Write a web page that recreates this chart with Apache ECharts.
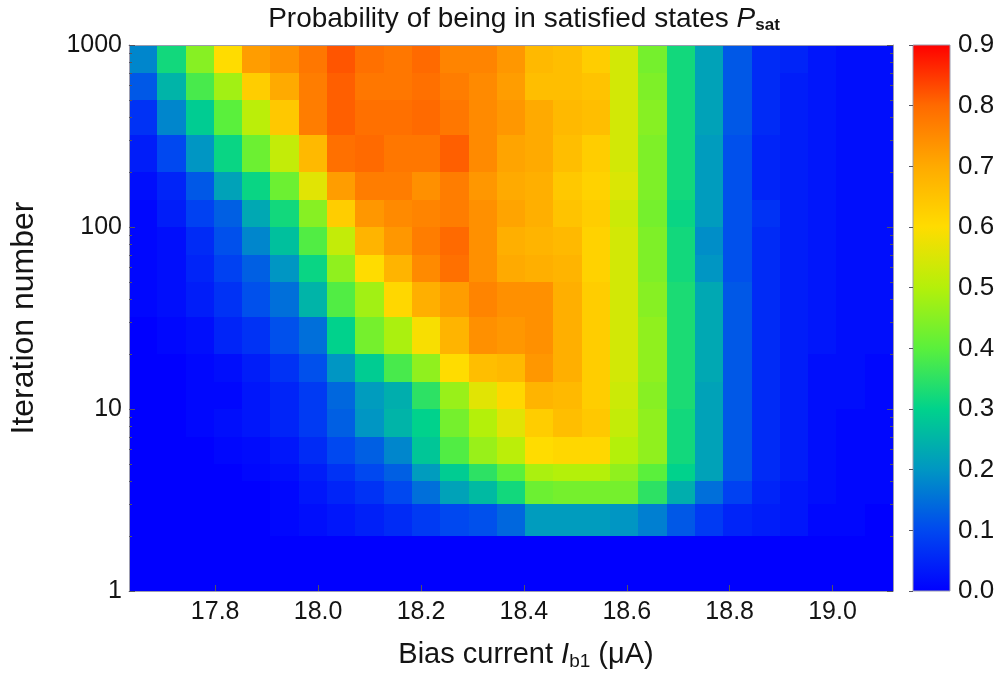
<!DOCTYPE html>
<html>
<head>
<meta charset="utf-8">
<script src="https://cdn.jsdelivr.net/npm/echarts@6/dist/echarts.min.js"></script>
<style>
  html, body { margin: 0; padding: 0; background: #ffffff; }
  #chart { width: 1006px; height: 679px; }
</style>
</head>
<body>
<div id="chart"></div>
<script>
// Bias current at the centre of each measured column (µA)
const biasCurrent = [17.66, 17.715, 17.77, 17.825, 17.88, 17.935, 17.99, 18.045, 18.10, 18.155,
  18.21, 18.265, 18.32, 18.375, 18.43, 18.485, 18.54, 18.595, 18.65, 18.705,
  18.76, 18.815, 18.87, 18.925, 18.98, 19.035, 19.09];

// Iteration-number bin edges, bottom to top
const iterationEdges = [1, 2, 3, 4, 5, 7, 10, 14, 20, 32, 50, 70, 100, 140, 200, 320, 500, 700, 1000];

// P_sat for every iteration bin, one value per bias current
const pSatIter1to2 = [0, 0, 0, 0, 0, 0, 0, 0, 0, 0, 0, 0, 0, 0, 0, 0, 0, 0, 0, 0, 0, 0, 0, 0, 0, 0, 0];
const pSatIter2to3 = [0, 0, 0, 0, 0, 0.01, 0.02, 0.03, 0.045, 0.06, 0.08, 0.10, 0.11, 0.14, 0.21, 0.21, 0.21, 0.20, 0.17, 0.12, 0.08, 0.05, 0.04, 0.03, 0.01, 0.01, 0];
const pSatIter3to4 = [0, 0, 0, 0, 0, 0.01, 0.03, 0.05, 0.07, 0.10, 0.15, 0.22, 0.26, 0.32, 0.42, 0.43, 0.43, 0.43, 0.35, 0.24, 0.15, 0.09, 0.05, 0.03, 0.02, 0.01, 0.01];
const pSatIter4to5 = [0, 0, 0, 0, 0.01, 0.02, 0.04, 0.07, 0.10, 0.13, 0.21, 0.29, 0.35, 0.40, 0.49, 0.50, 0.50, 0.46, 0.40, 0.30, 0.22, 0.12, 0.06, 0.04, 0.02, 0.01, 0.01];
const pSatIter5to7 = [0, 0, 0, 0.01, 0.015, 0.03, 0.06, 0.10, 0.13, 0.18, 0.28, 0.39, 0.47, 0.51, 0.60, 0.61, 0.61, 0.50, 0.46, 0.32, 0.22, 0.12, 0.06, 0.04, 0.02, 0.01, 0.01];
const pSatIter7to10 = [0, 0, 0.01, 0.02, 0.03, 0.05, 0.08, 0.13, 0.20, 0.25, 0.30, 0.43, 0.50, 0.56, 0.63, 0.66, 0.64, 0.52, 0.46, 0.32, 0.22, 0.12, 0.06, 0.04, 0.02, 0.01, 0.01];
const pSatIter10to14 = [0, 0, 0.01, 0.01, 0.03, 0.05, 0.08, 0.14, 0.21, 0.24, 0.35, 0.47, 0.56, 0.61, 0.68, 0.67, 0.63, 0.53, 0.45, 0.33, 0.22, 0.12, 0.06, 0.04, 0.02, 0.02, 0.01];
const pSatIter14to20 = [0, 0, 0.01, 0.02, 0.04, 0.07, 0.11, 0.20, 0.29, 0.38, 0.46, 0.60, 0.66, 0.67, 0.73, 0.69, 0.63, 0.54, 0.46, 0.33, 0.23, 0.12, 0.06, 0.04, 0.02, 0.02, 0.01];
const pSatIter20to32 = [0, 0.01, 0.02, 0.05, 0.07, 0.11, 0.15, 0.30, 0.43, 0.49, 0.59, 0.68, 0.74, 0.73, 0.74, 0.69, 0.63, 0.54, 0.46, 0.33, 0.23, 0.12, 0.06, 0.04, 0.03, 0.02, 0.02];
const pSatIter32to50 = [0.01, 0.02, 0.04, 0.07, 0.11, 0.15, 0.25, 0.39, 0.48, 0.61, 0.69, 0.72, 0.76, 0.74, 0.74, 0.69, 0.63, 0.54, 0.45, 0.33, 0.23, 0.12, 0.06, 0.04, 0.03, 0.02, 0.02];
const pSatIter50to70 = [0.01, 0.02, 0.05, 0.09, 0.13, 0.20, 0.31, 0.46, 0.60, 0.68, 0.75, 0.79, 0.74, 0.70, 0.69, 0.68, 0.62, 0.54, 0.44, 0.32, 0.20, 0.11, 0.06, 0.04, 0.03, 0.02, 0.02];
const pSatIter70to100 = [0.01, 0.02, 0.06, 0.11, 0.18, 0.27, 0.39, 0.52, 0.68, 0.73, 0.77, 0.80, 0.74, 0.69, 0.68, 0.67, 0.62, 0.54, 0.44, 0.32, 0.19, 0.11, 0.06, 0.04, 0.03, 0.02, 0.02];
const pSatIter100to140 = [0.01, 0.04, 0.09, 0.13, 0.23, 0.32, 0.45, 0.63, 0.73, 0.75, 0.76, 0.77, 0.74, 0.71, 0.69, 0.65, 0.63, 0.53, 0.43, 0.31, 0.21, 0.11, 0.07, 0.04, 0.03, 0.02, 0.02];
const pSatIter140to200 = [0.02, 0.05, 0.12, 0.22, 0.31, 0.42, 0.56, 0.72, 0.77, 0.77, 0.74, 0.77, 0.73, 0.70, 0.69, 0.64, 0.62, 0.55, 0.44, 0.32, 0.21, 0.11, 0.05, 0.04, 0.03, 0.02, 0.02];
const pSatIter200to320 = [0.04, 0.10, 0.20, 0.31, 0.42, 0.52, 0.67, 0.79, 0.80, 0.78, 0.78, 0.81, 0.75, 0.71, 0.70, 0.66, 0.63, 0.54, 0.44, 0.32, 0.21, 0.11, 0.05, 0.04, 0.03, 0.02, 0.02];
const pSatIter320to500 = [0.07, 0.18, 0.29, 0.40, 0.51, 0.64, 0.77, 0.81, 0.79, 0.79, 0.80, 0.78, 0.75, 0.73, 0.70, 0.67, 0.66, 0.54, 0.45, 0.32, 0.22, 0.12, 0.06, 0.04, 0.03, 0.02, 0.02];
const pSatIter500to700 = [0.12, 0.25, 0.38, 0.48, 0.63, 0.70, 0.77, 0.81, 0.78, 0.78, 0.79, 0.77, 0.75, 0.72, 0.66, 0.66, 0.65, 0.54, 0.44, 0.32, 0.22, 0.12, 0.06, 0.04, 0.03, 0.02, 0.02];
const pSatIter700to1000 = [0.18, 0.32, 0.45, 0.60, 0.72, 0.74, 0.78, 0.82, 0.79, 0.78, 0.80, 0.76, 0.76, 0.73, 0.67, 0.66, 0.63, 0.54, 0.43, 0.32, 0.22, 0.12, 0.06, 0.05, 0.03, 0.02, 0.02];

const pSatRows = [pSatIter1to2, pSatIter2to3, pSatIter3to4, pSatIter4to5, pSatIter5to7, pSatIter7to10,
  pSatIter10to14, pSatIter14to20, pSatIter20to32, pSatIter32to50, pSatIter50to70, pSatIter70to100,
  pSatIter100to140, pSatIter140to200, pSatIter200to320, pSatIter320to500, pSatIter500to700, pSatIter700to1000];

// Axis tick values
const biasTicks = [17.8, 18.0, 18.2, 18.4, 18.6, 18.8, 19.0];
const iterationTicks = [1, 10, 100, 1000];
const iterationMinorTicks = [2, 3, 4, 5, 6, 7, 8, 9, 20, 30, 40, 50, 60, 70, 80, 90, 200, 300, 400, 500, 600, 700, 800, 900];
const colorbarRange = [0, 0.9];

// Rainbow palette, evenly spaced from 0.0 to 0.9
const palette = ['#0000ff', '#0048f0', '#0096c3', '#00d28c', '#5af03c',
  '#b4f00a', '#ffdc00', '#ffaa00', '#ff6a00', '#ff0000'];

// Cell edges along the bias-current axis (midpoints between neighbouring columns)
const biasEdges = [];
for (let i = 0; i <= biasCurrent.length; i++) {
  if (i === 0) biasEdges.push(biasCurrent[0] - (biasCurrent[1] - biasCurrent[0]) / 2);
  else if (i === biasCurrent.length) biasEdges.push(biasCurrent[i - 1] + (biasCurrent[i - 1] - biasCurrent[i - 2]) / 2);
  else biasEdges.push((biasCurrent[i - 1] + biasCurrent[i]) / 2);
}

// One rectangle per cell: [x0, x1, y0, y1, P_sat]
const cells = [];
pSatRows.forEach((row, r) => {
  row.forEach((v, c) => {
    cells.push([biasEdges[c], biasEdges[c + 1], iterationEdges[r], iterationEdges[r + 1], v]);
  });
});

const FONT = '"Liberation Sans", Arial, Helvetica, sans-serif';
const TXT = '#141414';
const FRAME = '#9c9cae';
const TICK = '#555560';
const LABEL_SIZE = 25;
const NAME_SIZE = 29;

const chart = echarts.init(document.getElementById('chart'), null, { renderer: 'canvas' });

function logAxis(opts) {
  return Object.assign({
    type: 'log', logBase: 10, gridIndex: 0, min: 1, max: 1000, z: 10,
    splitLine: { show: false }, minorTick: { show: false }, minorSplitLine: { show: false }
  }, opts);
}

const option = {
  backgroundColor: '#ffffff',
  animation: false,
  textStyle: { fontFamily: FONT },
  grid: [
    { left: 127, top: 45, width: 766, height: 546 },
    { left: 913, top: 45, width: 37, height: 546 }
  ],
  graphic: [{
    type: 'text', x: 524, y: 19, z: 20,
    style: {
      text: 'Probability of being in satisfied states {i|P}{s|sat}',
      align: 'center', verticalAlign: 'middle',
      fontFamily: FONT, fontSize: 28, fill: TXT, lineHeight: 30,
      rich: {
        i: { fontFamily: FONT, fontSize: 28, fontStyle: 'italic', fill: TXT, lineHeight: 30 },
        s: { fontFamily: FONT, fontSize: 17, fontWeight: 'bold', fill: TXT, lineHeight: 14, verticalAlign: 'bottom' }
      }
    }
  }],
  visualMap: {
    type: 'continuous', show: false, seriesIndex: 0, dimension: 4,
    min: colorbarRange[0], max: colorbarRange[1],
    inRange: { color: palette }
  },
  xAxis: [
    {
      type: 'value', gridIndex: 0, position: 'bottom', min: 'dataMin', max: 'dataMax', z: 10,
      axisLine: { show: true, onZero: false, lineStyle: { color: FRAME, width: 1 } },
      axisTick: { show: true, inside: true, length: 6, customValues: biasTicks, lineStyle: { color: TICK } },
      axisLabel: {
        customValues: biasTicks, formatter: v => v.toFixed(1),
        fontSize: LABEL_SIZE, color: TXT, fontFamily: FONT, margin: 9
      },
      splitLine: { show: false },
      name: 'Bias current {i|I}{s|b1} (μA)', nameLocation: 'middle', nameGap: 47,
      nameTextStyle: {
        fontFamily: FONT, fontSize: NAME_SIZE, color: TXT, lineHeight: 33, padding: [0, 0, 0, 30],
        rich: {
          i: { fontFamily: FONT, fontSize: NAME_SIZE, fontStyle: 'italic', color: TXT, lineHeight: 33 },
          s: { fontFamily: FONT, fontSize: 19, color: TXT, lineHeight: 15, verticalAlign: 'bottom' }
        }
      }
    },
    {
      type: 'value', gridIndex: 0, position: 'top', min: 'dataMin', max: 'dataMax', z: 10,
      axisLine: { show: true, onZero: false, lineStyle: { color: FRAME, width: 1 } },
      axisTick: { show: true, inside: true, length: 6, customValues: biasTicks, lineStyle: { color: TICK } },
      axisLabel: { show: false },
      splitLine: { show: false }
    },
    { type: 'value', gridIndex: 1, min: 0, max: 1, show: false }
  ],
  yAxis: [
    logAxis({
      position: 'left',
      axisLine: { show: true, onZero: false, lineStyle: { color: FRAME, width: 1 } },
      axisTick: { show: true, inside: true, length: 6, customValues: iterationTicks, lineStyle: { color: TICK } },
      axisLabel: { customValues: iterationTicks, formatter: v => String(Math.round(v)), fontSize: LABEL_SIZE, color: TXT, fontFamily: FONT, margin: 7 },
      name: 'Iteration number', nameLocation: 'middle', nameGap: 89,
      nameTextStyle: { fontFamily: FONT, fontSize: 32, color: TXT }
    }),
    logAxis({
      position: 'left',
      axisLine: { show: false },
      axisTick: { show: true, inside: true, length: 3, customValues: iterationMinorTicks, lineStyle: { color: TICK } },
      axisLabel: { show: false }
    }),
    logAxis({
      position: 'right',
      axisLine: { show: true, onZero: false, lineStyle: { color: FRAME, width: 1 } },
      axisTick: { show: true, inside: true, length: 6, customValues: iterationTicks, lineStyle: { color: TICK } },
      axisLabel: { show: false }
    }),
    logAxis({
      position: 'right',
      axisLine: { show: false },
      axisTick: { show: true, inside: true, length: 3, customValues: iterationMinorTicks, lineStyle: { color: TICK } },
      axisLabel: { show: false }
    }),
    {
      type: 'value', gridIndex: 1, position: 'right', min: colorbarRange[0], max: colorbarRange[1], interval: 0.1, z: 10,
      axisLine: { show: false },
      axisTick: { show: true, inside: true, length: 4, lineStyle: { color: TICK } },
      axisLabel: { formatter: v => v.toFixed(1), fontSize: 26, color: TXT, fontFamily: FONT, margin: 8 },
      splitLine: { show: false }
    }
  ],
  series: [
    {
      type: 'custom',
      xAxisIndex: 0, yAxisIndex: 0,
      encode: { x: [0, 1], y: [2, 3] },
      data: cells,
      clip: true,
      renderItem: function (params, api) {
        const a = api.coord([api.value(0), api.value(3)]);
        const b = api.coord([api.value(1), api.value(2)]);
        const x0 = Math.round(a[0]), y0 = Math.round(a[1]);
        const x1 = Math.round(b[0]), y1 = Math.round(b[1]);
        return {
          type: 'rect',
          shape: { x: x0, y: y0, width: x1 - x0, height: y1 - y0 },
          style: { fill: api.visual('color') }
        };
      }
    },
    {
      // Colour scale bar
      type: 'custom',
      xAxisIndex: 2, yAxisIndex: 4,
      data: [[0, 1, colorbarRange[0], colorbarRange[1]]],
      silent: true,
      renderItem: function (params, api) {
        const a = api.coord([api.value(0), api.value(3)]);
        const b = api.coord([api.value(1), api.value(2)]);
        return {
          type: 'rect',
          shape: { x: a[0], y: a[1], width: b[0] - a[0], height: b[1] - a[1] },
          style: {
            fill: new echarts.graphic.LinearGradient(0, 1, 0, 0,
              palette.map((c, i) => ({ offset: i / (palette.length - 1), color: c }))),
            stroke: FRAME, lineWidth: 1
          }
        };
      }
    }
  ]
};

chart.setOption(option);
</script>
</body>
</html>
